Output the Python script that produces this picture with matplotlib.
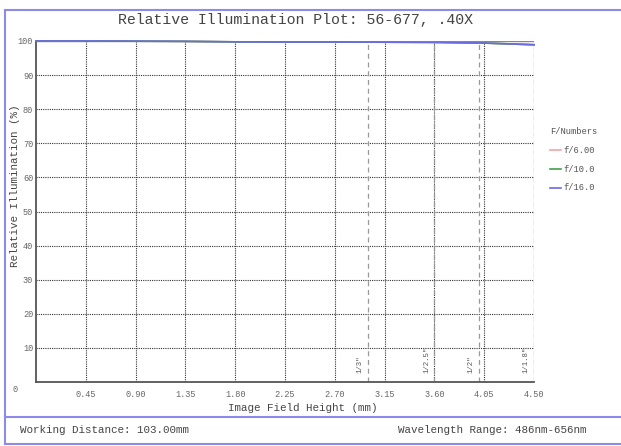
import matplotlib
matplotlib.use("Agg")
import matplotlib.pyplot as plt
from matplotlib.lines import Line2D

# data (the three curves sit on top of each other)
field_mm = [0.0, 0.45, 0.90, 1.35, 1.80, 2.25, 2.70, 3.15, 3.60, 4.05, 4.50]
ri_f6 = [100.0, 100.0, 99.95, 99.9, 99.75, 99.7, 99.7, 99.65, 99.6, 99.4, 98.9]
ri_f10 = [100.0, 100.0, 99.95, 99.9, 99.75, 99.7, 99.7, 99.65, 99.6, 99.4, 98.9]
ri_f16 = [100.0, 100.0, 99.95, 99.9, 99.75, 99.7, 99.7, 99.65, 99.6, 99.4, 98.9]
f_labels = ["f/6.00", "f/10.0", "f/16.0"]
f_colors = ["#f4a3a3", "#3fa33f", "#6a6ae6"]

sensor_names = ['1/3"', '1/2.5"', '1/2"', '1/1.8"']
sensor_half_diag = [3.0, 3.6, 4.0, 4.5]

x_ticks = [0.45, 0.90, 1.35, 1.80, 2.25, 2.70, 3.15, 3.60, 4.05, 4.50]
y_ticks = [10, 20, 30, 40, 50, 60, 70, 80, 90, 100]

mono = "Liberation Mono"
border = "#8c8ce8"

W, H = 621, 446
fig = plt.figure(figsize=(W / 100, H / 100), dpi=100)

# outer frame lines
fig.add_artist(Line2D([5 / W, 1], [1 - 10 / H, 1 - 10 / H], color=border, lw=1.5))
fig.add_artist(Line2D([5 / W, 5 / W], [1 - 10 / H, 1 - 444 / H], color=border, lw=1.5))
fig.add_artist(Line2D([5 / W, 1], [1 - 417 / H, 1 - 417 / H], color=border, lw=1.5))
fig.add_artist(Line2D([5 / W, 1], [1 - 444 / H, 1 - 444 / H], color=border, lw=1.5))

ax = fig.add_axes([36 / W, 1 - 382 / H, 498 / W, 341 / H])
ax.set_xlim(0, 4.5)
ax.set_ylim(0, 100)

for xv in x_ticks:
    ax.axvline(xv, color="#333333", lw=0.8, ls=(0, (1, 1)), zorder=1)
for yv in y_ticks[:-1]:
    ax.axhline(yv, color="#333333", lw=0.8, ls=(0, (1, 1)), zorder=1)
ax.axhline(100, color="#888888", lw=1.0, zorder=1)

for name, xv in zip(sensor_names, sensor_half_diag):
    ax.axvline(xv, color="#999999", lw=0.9, ls=(0, (4, 3)), zorder=2)
    ax.text(xv - 0.07, 2.5, name, rotation=90, ha="center", va="bottom",
            fontsize=5.3, family=mono, color="#555555")

for ys, lab, col in zip([ri_f6, ri_f10, ri_f16], f_labels, f_colors):
    ax.plot(field_mm, ys, color=col, lw=1.2, zorder=3, clip_on=False)

for s in ["top", "right"]:
    ax.spines[s].set_visible(False)
for s in ["left", "bottom"]:
    ax.spines[s].set_color("#555555")
    ax.spines[s].set_linewidth(1.3)

ax.set_xticks(x_ticks)
ax.set_xticklabels([f"{v:.2f}" for v in x_ticks])
ax.set_yticks(y_ticks)
ax.set_yticklabels([str(v) for v in y_ticks])
ax.tick_params(axis="x", length=0, labelsize=6.2, labelcolor="#666666", pad=6)
ax.tick_params(axis="y", length=0, labelsize=6.2, labelcolor="#666666", pad=2)
for t in ax.get_xticklabels() + ax.get_yticklabels():
    t.set_family(mono)
fig.text(15 / W, 1 - 389 / H, "0", fontsize=6.2, family=mono,
         color="#666666", ha="center", va="center")

fig.text(303 / W, 1 - 408 / H, "Image Field Height (mm)", family=mono, fontsize=7.8,
         color="#444444", ha="center", va="center")
fig.text(15 / W, 1 - 186 / H, "Relative Illumination (%)", family=mono, fontsize=7.8,
         color="#444444", ha="center", va="center", rotation=90)

fig.text(295 / W, 1 - 20 / H, "Relative Illumination Plot: 56-677, .40X", family=mono,
         fontsize=10.7, color="#444444", ha="center", va="center")

# legend
fig.text(550 / W, 1 - 132 / H, "F/Numbers", family=mono, fontsize=6.3, color="#555555", va="center")
for i, (lab, col) in enumerate(zip(f_labels, f_colors)):
    yy = 1 - (150 + 19 * i) / H
    fig.add_artist(Line2D([550 / W, 561 / W], [yy, yy], color=col, lw=1.2))
    fig.text(563 / W, yy, lab, family=mono, fontsize=6.3, color="#555555", va="center")

fig.text(20 / W, 1 - 430 / H, "Working Distance: 103.00mm", family=mono, fontsize=7.8,
         color="#444444", va="center")
fig.text(587 / W, 1 - 430 / H, "Wavelength Range: 486nm-656nm", family=mono, fontsize=7.8,
         color="#444444", va="center", ha="right")

fig.savefig("out.png", dpi=100)
